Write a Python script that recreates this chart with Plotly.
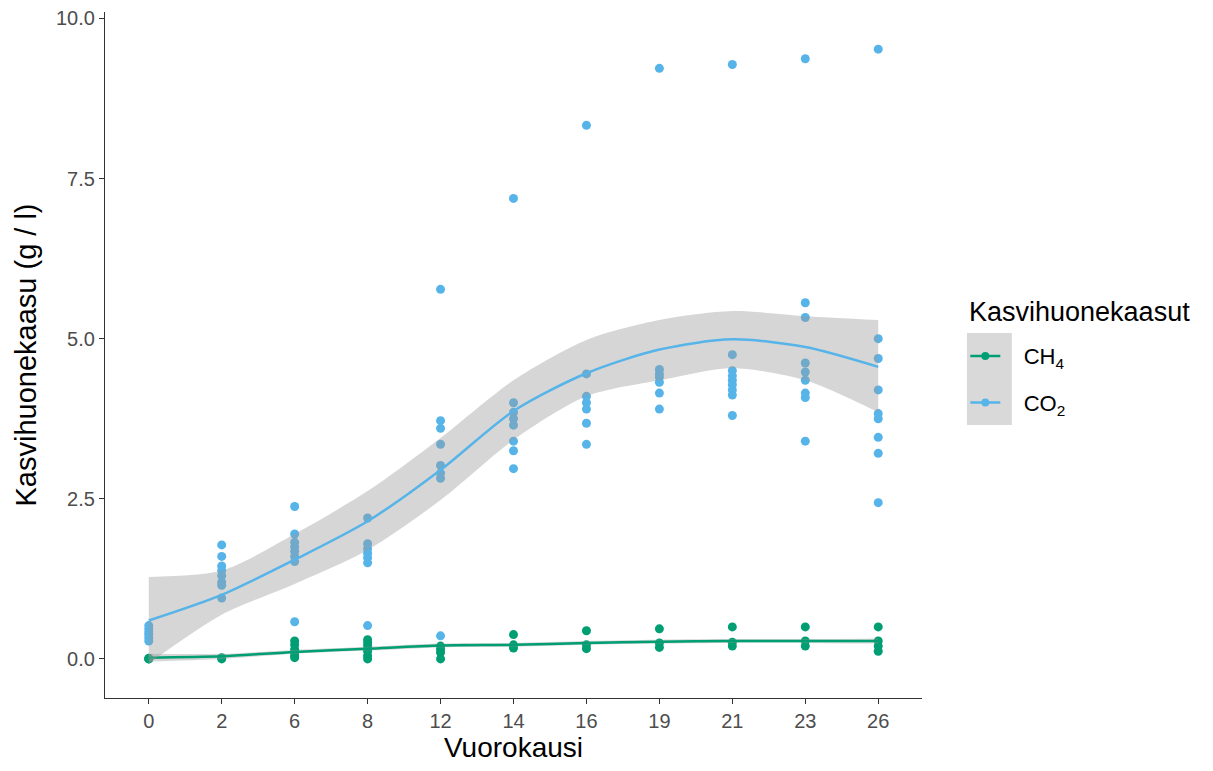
import plotly.graph_objects as go

days = ["0", "2", "6", "8", "12", "14", "16", "19", "21", "23", "26"]

co2_points = {
    "0": [0.28, 0.33, 0.38, 0.42, 0.47, 0.52],
    "2": [1.78, 1.6, 1.45, 1.38, 1.3, 1.2, 1.15, 0.95],
    "6": [2.38, 1.95, 1.82, 1.75, 1.68, 1.6, 1.52, 0.58],
    "8": [2.2, 1.8, 1.72, 1.65, 1.58, 1.5, 0.52],
    "12": [5.77, 3.72, 3.6, 3.35, 3.02, 2.9, 2.82, 0.36],
    "14": [7.19, 4.0, 3.85, 3.75, 3.65, 3.4, 3.25, 2.97],
    "16": [8.33, 4.45, 4.1, 4.0, 3.9, 3.68, 3.35],
    "19": [9.22, 4.52, 4.45, 4.4, 4.32, 4.15, 3.9],
    "21": [9.28, 4.75, 4.5, 4.42, 4.35, 4.28, 4.2, 4.12, 3.8],
    "23": [9.37, 5.56, 5.33, 4.62, 4.48, 4.35, 4.15, 4.08, 3.4],
    "26": [9.52, 5.0, 4.69, 4.2, 3.83, 3.75, 3.46, 3.21, 2.44],
}
ch4_points = {
    "0": [0.0, 0.0, 0.01],
    "2": [0.0, 0.02],
    "6": [0.28, 0.22, 0.15, 0.1, 0.05, 0.02],
    "8": [0.3, 0.25, 0.2, 0.12, 0.05, 0.0],
    "12": [0.2, 0.15, 0.1, 0.0],
    "14": [0.38, 0.22, 0.17],
    "16": [0.44, 0.22, 0.16],
    "19": [0.47, 0.25, 0.18],
    "21": [0.5, 0.26, 0.2],
    "23": [0.5, 0.28, 0.2],
    "26": [0.5, 0.28, 0.2, 0.12],
}

# smoothed fit (loess) and confidence band
co2_fit = [0.6, 1.0, 1.55, 2.15, 2.95, 3.87, 4.46, 4.83, 4.99, 4.87, 4.56]
co2_upper = [1.28, 1.38, 1.95, 2.62, 3.45, 4.35, 4.98, 5.29, 5.43, 5.35, 5.29]
co2_lower = [-0.07, 0.69, 1.17, 1.7, 2.48, 3.42, 4.1, 4.35, 4.54, 4.35, 3.85]
ch4_fit = [0.02, 0.04, 0.11, 0.16, 0.21, 0.22, 0.25, 0.27, 0.28, 0.28, 0.28]
ch4_upper = [0.08, 0.08, 0.14, 0.19, 0.24, 0.25, 0.28, 0.3, 0.31, 0.31, 0.32]
ch4_lower = [-0.04, 0.0, 0.08, 0.13, 0.18, 0.19, 0.22, 0.24, 0.25, 0.25, 0.24]

legend_title = "Kasvihuonekaasut"
gases = ["CH<sub>4</sub>", "CO<sub>2</sub>"]
colors = ["#009E73", "#56B4E9"]
band_fill = "rgba(153,153,153,0.4)"

FONT = "Liberation Sans, Arial, sans-serif"
idx = {d: i for i, d in enumerate(days)}

fig = go.Figure()

for pts, col in [(ch4_points, colors[0]), (co2_points, colors[1])]:
    xs, ys = [], []
    for d in days:
        for v in pts[d]:
            xs.append(idx[d])
            ys.append(v)
    fig.add_trace(go.Scatter(x=xs, y=ys, mode="markers",
                             marker=dict(color=col, size=9, line=dict(width=0)),
                             showlegend=False, hoverinfo="skip"))

xi = list(range(len(days)))
for fit, up, lo, col in [(ch4_fit, ch4_upper, ch4_lower, colors[0]),
                         (co2_fit, co2_upper, co2_lower, colors[1])]:
    fig.add_trace(go.Scatter(x=xi, y=lo, mode="lines",
                             line=dict(width=0, shape="spline", smoothing=0.8),
                             showlegend=False, hoverinfo="skip"))
    fig.add_trace(go.Scatter(x=xi, y=up, mode="lines", fill="tonexty",
                             line=dict(width=0, shape="spline", smoothing=0.8),
                             fillcolor=band_fill, showlegend=False, hoverinfo="skip"))
    fig.add_trace(go.Scatter(x=xi, y=fit, mode="lines",
                             line=dict(color=col, width=2.5, shape="spline", smoothing=0.8),
                             showlegend=False, hoverinfo="skip"))

for i, (name, col) in enumerate(zip(gases, colors)):
    fig.add_trace(go.Scatter(x=[None], y=[None], mode="lines+markers",
                             name="\u00a0\u00a0\u00a0" + name,
                             legendgroup="g%d" % i,
                             line=dict(color=col, width=2.5),
                             marker=dict(color=col, size=8)))

axis_font = dict(family=FONT, size=20, color="#4D4D4D")

fig.update_layout(
    width=1213, height=771,
    margin=dict(l=97, r=299, t=4, b=81),
    plot_bgcolor="white", paper_bgcolor="white",
    font=dict(family=FONT),
    xaxis=dict(range=[-0.6, 10.6], tickmode="array", tickvals=xi, ticktext=days,
               showgrid=False, zeroline=False, showline=True, linecolor="#333333",
               linewidth=1.3, ticks="outside", ticklen=5, tickcolor="#333333",
               tickfont=axis_font, automargin=False, ticklabeloverflow="allow",
               title=dict(text="Vuorokausi", font=dict(family=FONT, size=28, color="#000"),
                          standoff=5)),
    yaxis=dict(range=[-0.61, 10.1], tickmode="array", tickvals=[0, 2.5, 5, 7.5, 10],
               ticktext=["0.0", "2.5", "5.0", "7.5", "10.0"],
               showgrid=False, zeroline=False, showline=True, linecolor="#333333",
               linewidth=1.3, ticks="outside", ticklen=5, tickcolor="#333333",
               tickfont=axis_font, automargin=False, ticklabeloverflow="allow",
               title=dict(text="Kasvihuonekaasu (g / l)",
                          font=dict(family=FONT, size=29, color="#000"), standoff=10)),
    legend=dict(x=1.053, y=0.529, xanchor="left", yanchor="top",
                font=dict(family=FONT, size=22, color="#000"),
                bgcolor="rgba(0,0,0,0)", tracegroupgap=15, itemwidth=30),
    annotations=[dict(text=legend_title, xref="paper", yref="paper", x=1.055, y=0.563,
                      xanchor="left", yanchor="middle", showarrow=False,
                      font=dict(family=FONT, size=27, color="#000"))],
    shapes=[dict(type="rect", xref="paper", yref="paper", x0=1.055, x1=1.11,
                 y0=0.398, y1=0.532, fillcolor="#D9D9D9", line=dict(width=0), layer="below")],
)

fig.write_html("out.html")
